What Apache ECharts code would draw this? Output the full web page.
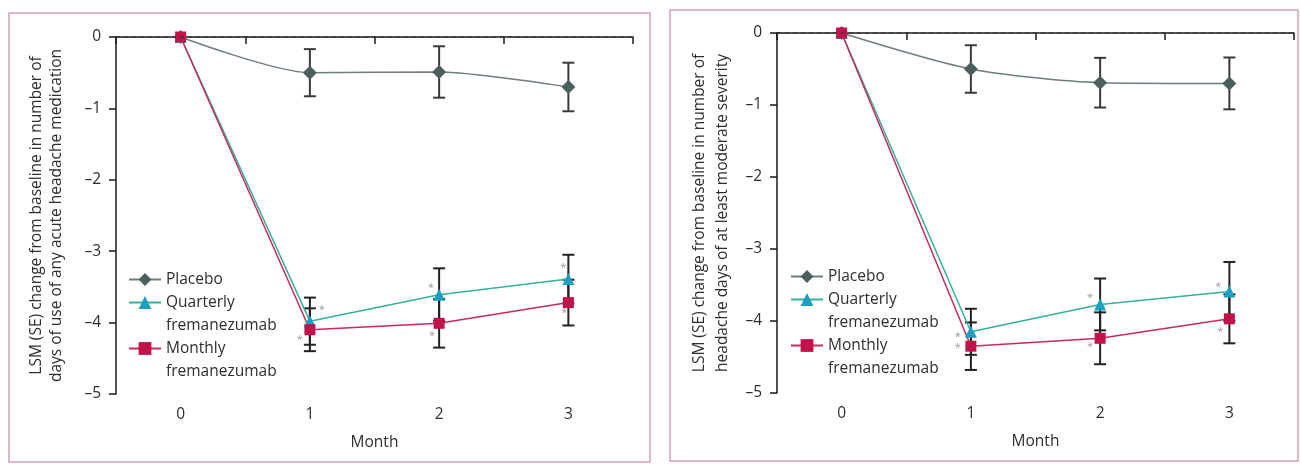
<!DOCTYPE html>
<html><head><meta charset="utf-8">
<script src="https://cdn.jsdelivr.net/npm/echarts@6/dist/echarts.min.js"></script>
<style>html,body{margin:0;padding:0;background:#fff}#c{width:1301px;height:465px}</style>
</head><body><div id="c"></div>
<script>
// ---------- data ----------
const months = ['0', '1', '2', '3'];
const yMin = -5, yMax = 0, yStep = 1;
const seriesNames = ['Placebo', 'Quarterly fremanezumab', 'Monthly fremanezumab'];

// Panel A: days of use of any acute headache medication
const placeboA      = [0, -0.50, -0.49, -0.70];
const placeboA_se   = [null, 0.33, 0.36, 0.34];
const quarterlyA    = [0, -3.98, -3.61, -3.39];
const quarterlyA_se = [null, 0.33, 0.37, 0.34];
const monthlyA      = [0, -4.10, -4.01, -3.72];
const monthlyA_se   = [null, 0.30, 0.34, 0.32];
const starsA_q      = [false, true, true, true];
const starsA_m      = [false, true, true, true];

// Panel B: headache days of at least moderate severity
const placeboB      = [0, -0.50, -0.69, -0.70];
const placeboB_se   = [null, 0.33, 0.345, 0.36];
const quarterlyB    = [0, -4.15, -3.77, -3.59];
const quarterlyB_se = [null, 0.32, 0.36, 0.41];
const monthlyB      = [0, -4.35, -4.24, -3.97];
const monthlyB_se   = [null, 0.33, 0.36, 0.34];
const starsB_q      = [false, true, true, true];
const starsB_m      = [false, true, true, true];

const titleA = 'LSM (SE) change from baseline in number of\ndays of use of any acute headache medication';
const titleB = 'LSM (SE) change from baseline in number of\nheadache days of at least moderate severity';
const xTitle = 'Month';

// ---------- styling (not data) ----------
const FONT = 'Open Sans';
const TXT = '#2e2e2e';
const colors = {
  placebo: {line: '#6f7d7d', mark: '#4b5f5f', sym: 'diamond', size: 14},
  quarterly: {line: '#34b09c', mark: '#1d9fbf', sym: 'triangle', size: 12},
  monthly: {line: '#c82a5a', mark: '#c2124a', sym: 'rect', size: 11}
};
// asterisk label offsets (pixels) per panel/series/month
const starOffA_q = [null, [12, -11], [-8, -7], [-5, -11]];
const starOffA_m = [null, [-10, 10], [-7, 13], [-4, 10]];
const starOffB_q = [null, [-13, 5], [-10, -7], [-11, -5]];
const starOffB_m = [null, [-13, 2], [-10, 9], [-9, 13]];

function lineSeries(name, vals, stars, offs, st, gi, extra) {
  return Object.assign({
    type: 'line', name: name, xAxisIndex: gi, yAxisIndex: gi, z: 4,
    symbol: st.sym, symbolSize: st.size,
    lineStyle: {color: st.line, width: 1.5},
    itemStyle: {color: st.mark},
    data: vals.map((v, i) => {
      const d = {value: v};
      if (stars && stars[i]) {
        d.label = {show: true, position: 'inside', formatter: '*', offset: offs[i],
          color: '#9a9a9a', fontSize: 11, fontFamily: FONT};
      }
      return d;
    })
  }, extra || {});
}

function errSeries(id, vals, se, gi, color) {
  const data = [];
  vals.forEach((v, i) => { if (se[i] != null) data.push([i, v, se[i]]); });
  return {
    type: 'custom', name: id, xAxisIndex: gi, yAxisIndex: gi, z: 3, silent: true,
    data: data,
    encode: {x: 0, y: 1},
    renderItem: function (params, api) {
      const x = api.value(0), v = api.value(1), s = api.value(2);
      const t = api.coord([x, v + s]);
      const b = api.coord([x, v - s]);
      const w = 6;
      const st = {stroke: color, lineWidth: 2};
      return {type: 'group', children: [
        {type: 'line', shape: {x1: t[0], y1: t[1], x2: b[0], y2: b[1]}, style: st},
        {type: 'line', shape: {x1: t[0] - w, y1: t[1], x2: t[0] + w, y2: t[1]}, style: st},
        {type: 'line', shape: {x1: b[0] - w, y1: b[1], x2: b[0] + w, y2: b[1]}, style: st}
      ]};
    }
  };
}

const zeroLine = {
  silent: true, symbol: 'none', label: {show: false},
  lineStyle: {type: [4, 4], color: '#3a3a3a', width: 1.5},
  data: [{yAxis: 0}]
};

function xAxis(gi) {
  return {
    type: 'category', gridIndex: gi, data: months, boundaryGap: true,
    axisLine: {lineStyle: {color: '#1a1a1a', width: 1.5}},
    axisTick: {show: true, length: 7, interval: 0, lineStyle: {color: '#1a1a1a', width: 1.5}},
    axisLabel: {color: TXT, fontSize: 15.5, fontFamily: FONT, margin: 13},
    name: xTitle, nameLocation: 'middle', nameGap: 41,
    nameTextStyle: {color: TXT, fontSize: 15.5, fontFamily: FONT},
    splitLine: {show: false}
  };
}
function yAxis(gi, title, gap, lh) {
  return {
    type: 'value', gridIndex: gi, min: yMin, max: yMax, interval: yStep,
    axisLine: {show: true, lineStyle: {color: '#1a1a1a', width: 1.5}},
    axisTick: {show: true, length: 7, lineStyle: {color: '#1a1a1a', width: 1.5}},
    axisLabel: {color: TXT, fontSize: 15.5, fontFamily: FONT, margin: 15,
      formatter: v => v < 0 ? '\u2013' + (-v) : String(v)},
    splitLine: {show: false},
    name: title, nameLocation: 'middle', nameGap: gap, nameRotate: 90,
    nameTextStyle: {color: TXT, fontSize: 15.5, fontFamily: FONT, lineHeight: lh}
  };
}
function legend(left, top) {
  return {
    orient: 'vertical', left: left, top: top, padding: 0, itemGap: -23,
    itemWidth: 32, itemHeight: 16, selectedMode: false,
    textStyle: {color: TXT, fontSize: 15.5, fontFamily: FONT, lineHeight: 23},
    // two-line names get a blank first line so the icon lines up with the first text line
    formatter: n => n.indexOf(' ') < 0 ? n : '\u00a0\n' + n.replace(' ', '\n'),
    data: seriesNames.map(n => ({name: n}))
  };
}

const chart = echarts.init(document.getElementById('c'), null, {renderer: 'canvas'});
chart.setOption({
  animation: false,
  backgroundColor: '#fff',
  graphic: [
    {type: 'rect', shape: {x: 9, y: 13, width: 641, height: 449}, style: {fill: 'none', stroke: '#d6a3b4', lineWidth: 1.5}, silent: true},
    {type: 'rect', shape: {x: 670, y: 10, width: 628, height: 451}, style: {fill: 'none', stroke: '#d6a3b4', lineWidth: 1.5}, silent: true}
  ],
  grid: [
    {left: 116, right: 668, top: 37, bottom: 71},
    {left: 777, right: 7, top: 33, bottom: 72}
  ],
  xAxis: [xAxis(0), xAxis(1)],
  yAxis: [yAxis(0, titleA, 49, 20), yAxis(1, titleB, 43, 23)],
  legend: [legend(128, 268), legend(790, 265)],
  series: [
    errSeries('errPA', placeboA, placeboA_se, 0, '#3a3a3a'),
    errSeries('errQA', quarterlyA, quarterlyA_se, 0, '#222'),
    errSeries('errMA', monthlyA, monthlyA_se, 0, '#222'),
    lineSeries(seriesNames[0], placeboA, null, null, colors.placebo, 0, {smooth: 0.25, markLine: zeroLine}),
    lineSeries(seriesNames[1], quarterlyA, starsA_q, starOffA_q, colors.quarterly, 0),
    lineSeries(seriesNames[2], monthlyA, starsA_m, starOffA_m, colors.monthly, 0),
    errSeries('errPB', placeboB, placeboB_se, 1, '#3a3a3a'),
    errSeries('errQB', quarterlyB, quarterlyB_se, 1, '#222'),
    errSeries('errMB', monthlyB, monthlyB_se, 1, '#222'),
    lineSeries(seriesNames[0], placeboB, null, null, colors.placebo, 1, {smooth: 0.25, markLine: zeroLine}),
    lineSeries(seriesNames[1], quarterlyB, starsB_q, starOffB_q, colors.quarterly, 1),
    lineSeries(seriesNames[2], monthlyB, starsB_m, starOffB_m, colors.monthly, 1)
  ]
});
</script></body></html>
